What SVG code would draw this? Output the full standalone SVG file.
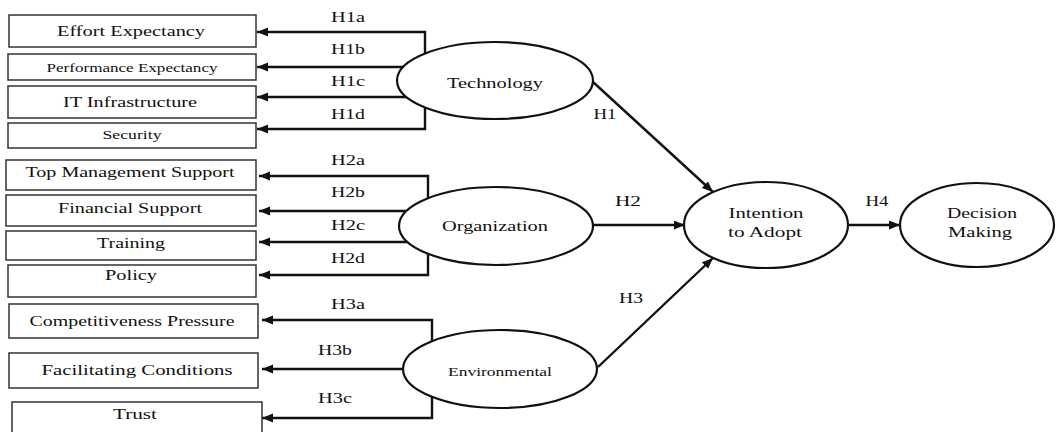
<svg xmlns="http://www.w3.org/2000/svg" width="1057" height="432" viewBox="0 0 1057 432" font-family="'Liberation Serif', 'Times New Roman', 'DejaVu Serif', serif">
<defs>
<marker id="ah" markerUnits="userSpaceOnUse" markerWidth="12" markerHeight="10" refX="11" refY="4.5" orient="auto">
<path d="M0,0 L11,4.5 L0,9 z" fill="#111"/>
</marker>
<style>
.box{fill:#fff;stroke:#333;stroke-width:1.5}
.ell{fill:#fff;stroke:#111;stroke-width:2.2}
.con{fill:none;stroke:#111;stroke-width:2.4;marker-end:url(#ah)}
text{fill:#111;text-anchor:middle}
.t{font-size:15px}
.s{font-size:12px}
.lb{font-size:14px}
</style>
</defs>
<rect width="1057" height="432" fill="#fff"/>
<g id="connectors">
<polyline class="con" points="425,80 425,32 257,32"/>
<polyline class="con" points="495,67 257,67"/>
<polyline class="con" points="495,97 257,97"/>
<polyline class="con" points="425,80 425,129 257,129"/>
<polyline class="con" points="428,226 428,176 259,176"/>
<polyline class="con" points="496,211 259,211"/>
<polyline class="con" points="496,242 259,242"/>
<polyline class="con" points="428,226 428,275 259,275"/>
<polyline class="con" points="432,369 432,320 262,320"/>
<polyline class="con" points="500,369 262,369"/>
<polyline class="con" points="432,369 432,418 262,418"/>
<line class="con" x1="593" y1="82" x2="713" y2="192"/>
<line class="con" x1="593" y1="225" x2="685" y2="225"/>
<line class="con" x1="598" y1="367" x2="713" y2="258"/>
<line class="con" x1="848" y1="225" x2="900" y2="225"/>
<text class="lb" x="348" y="22" textLength="34" lengthAdjust="spacingAndGlyphs">H1a</text>
<text class="lb" x="348" y="54" textLength="34" lengthAdjust="spacingAndGlyphs">H1b</text>
<text class="lb" x="348" y="86" textLength="34" lengthAdjust="spacingAndGlyphs">H1c</text>
<text class="lb" x="348" y="119" textLength="34" lengthAdjust="spacingAndGlyphs">H1d</text>
<text class="lb" x="348" y="165" textLength="34" lengthAdjust="spacingAndGlyphs">H2a</text>
<text class="lb" x="348" y="197" textLength="34" lengthAdjust="spacingAndGlyphs">H2b</text>
<text class="lb" x="348" y="230" textLength="34" lengthAdjust="spacingAndGlyphs">H2c</text>
<text class="lb" x="348" y="263" textLength="34" lengthAdjust="spacingAndGlyphs">H2d</text>
<text class="lb" x="348" y="309" textLength="34" lengthAdjust="spacingAndGlyphs">H3a</text>
<text class="lb" x="335" y="355" textLength="34" lengthAdjust="spacingAndGlyphs">H3b</text>
<text class="lb" x="335" y="403" textLength="34" lengthAdjust="spacingAndGlyphs">H3c</text>
<text class="lb" x="605" y="119" textLength="23" lengthAdjust="spacingAndGlyphs">H1</text>
<text class="lb" x="628" y="206" textLength="26" lengthAdjust="spacingAndGlyphs">H2</text>
<text class="lb" x="631" y="303" textLength="24" lengthAdjust="spacingAndGlyphs">H3</text>
<text class="lb" x="877" y="206" textLength="23" lengthAdjust="spacingAndGlyphs">H4</text>
</g>
<g id="effort"><rect class="box" x="9" y="15" width="247" height="32"/><text class="t" x="131" y="36" textLength="148" lengthAdjust="spacingAndGlyphs">Effort Expectancy</text></g>
<g id="performance"><rect class="box" x="8" y="54" width="248" height="26"/><text class="s" x="132" y="72" textLength="171" lengthAdjust="spacingAndGlyphs">Performance  Expectancy</text></g>
<g id="it"><rect class="box" x="8" y="86" width="248" height="32"/><text class="t" x="130" y="107" textLength="134" lengthAdjust="spacingAndGlyphs">IT Infrastructure</text></g>
<g id="security"><rect class="box" x="8" y="123" width="248" height="25"/><text class="s" x="132" y="139" textLength="59" lengthAdjust="spacingAndGlyphs">Security</text></g>
<g id="topmgmt"><rect class="box" x="6" y="160" width="250" height="30"/><text class="t" x="130" y="177" textLength="209" lengthAdjust="spacingAndGlyphs">Top Management Support</text></g>
<g id="financial"><rect class="box" x="6" y="195" width="250" height="31"/><text class="t" x="130" y="213" textLength="144" lengthAdjust="spacingAndGlyphs">Financial Support</text></g>
<g id="training"><rect class="box" x="6" y="231" width="250" height="29"/><text class="t" x="131" y="248" textLength="68" lengthAdjust="spacingAndGlyphs">Training</text></g>
<g id="policy"><rect class="box" x="8" y="265" width="248" height="32"/><text class="t" x="131" y="280" textLength="52" lengthAdjust="spacingAndGlyphs">Policy</text></g>
<g id="competitiveness"><rect class="box" x="9" y="304" width="249" height="34"/><text class="t" x="132" y="326" textLength="205" lengthAdjust="spacingAndGlyphs">Competitiveness Pressure</text></g>
<g id="facilitating"><rect class="box" x="9" y="353" width="249" height="35"/><text class="t" x="137" y="375" textLength="191" lengthAdjust="spacingAndGlyphs">Facilitating Conditions</text></g>
<g id="trust"><rect class="box" x="12" y="402" width="250" height="40"/><text class="t" x="135" y="419" textLength="44" lengthAdjust="spacingAndGlyphs">Trust</text></g>
<g id="technology"><ellipse class="ell" cx="495" cy="80.5" rx="98" ry="38.5"/><text class="t" x="495" y="88" textLength="96" lengthAdjust="spacingAndGlyphs">Technology</text></g>
<g id="organization"><ellipse class="ell" cx="496" cy="226" rx="97" ry="39"/><text class="t" x="495" y="231" textLength="106" lengthAdjust="spacingAndGlyphs">Organization</text></g>
<g id="environmental"><ellipse class="ell" cx="500" cy="369" rx="97" ry="39"/><text class="s" x="500" y="376" textLength="104" lengthAdjust="spacingAndGlyphs">Environmental</text></g>
<g id="intention"><ellipse class="ell" cx="766" cy="225" rx="82" ry="43"/><text class="t" x="766" y="218" textLength="75" lengthAdjust="spacingAndGlyphs">Intention</text><text class="t" x="765" y="237" textLength="74" lengthAdjust="spacingAndGlyphs">to Adopt</text></g>
<g id="decision"><ellipse class="ell" cx="977" cy="225" rx="77" ry="42"/><text class="t" x="982" y="218" textLength="70" lengthAdjust="spacingAndGlyphs">Decision</text><text class="t" x="980" y="237" textLength="64" lengthAdjust="spacingAndGlyphs">Making</text></g>
</svg>
